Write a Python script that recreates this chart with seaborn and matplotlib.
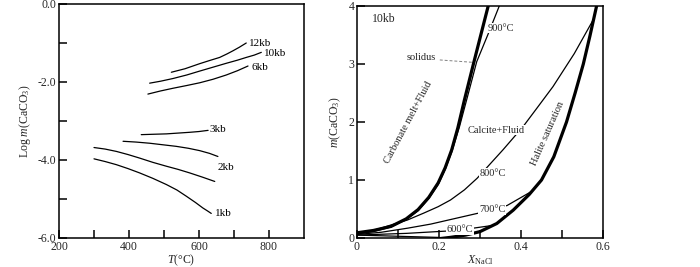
import numpy as np
import pandas as pd
import matplotlib
matplotlib.use("Agg")
import matplotlib.pyplot as plt
import seaborn as sns

sns.set_theme(style="white")
plt.rcParams['font.family'] = ['Liberation Serif', 'DejaVu Serif']
plt.rcParams['mathtext.fontset'] = 'custom'
plt.rcParams['mathtext.rm'] = 'Liberation Serif'
plt.rcParams['mathtext.it'] = 'Liberation Serif:italic'

# ---------------- Left panel data: Log m(CaCO3) vs T ----------------
t_12kb = [521, 560, 602, 630, 659, 680, 697, 715, 735]
v_12kb = [-1.75, -1.66, -1.53, -1.45, -1.37, -1.28, -1.20, -1.11, -1.00]
t_10kb = [459, 490, 526, 565, 602, 640, 678, 710, 735, 758, 778]
v_10kb = [-2.03, -1.98, -1.91, -1.82, -1.72, -1.62, -1.52, -1.44, -1.37, -1.31, -1.24]
t_6kb = [454, 490, 526, 565, 602, 640, 678, 710, 740]
v_6kb = [-2.31, -2.23, -2.16, -2.09, -2.02, -1.93, -1.82, -1.71, -1.59]
t_3kb = [435, 470, 507, 540, 573, 600, 626]
v_3kb = [-3.35, -3.34, -3.33, -3.31, -3.29, -3.27, -3.24]
t_2kb = [383, 420, 459, 497, 535, 570, 602, 630, 654]
v_2kb = [-3.52, -3.54, -3.57, -3.61, -3.65, -3.70, -3.76, -3.83, -3.91]
t_1p5kb = [300, 332, 364, 397, 430, 468, 507, 540, 573, 610, 645]
v_1p5kb = [-3.68, -3.72, -3.78, -3.86, -3.95, -4.06, -4.16, -4.24, -4.33, -4.44, -4.55]
t_1kb = [300, 332, 364, 397, 430, 468, 507, 537, 564, 590, 611, 625, 635]
v_1kb = [-3.97, -4.04, -4.12, -4.22, -4.33, -4.47, -4.63, -4.77, -4.93, -5.09, -5.23, -5.31, -5.37]

left_labels = ["12kb", "10kb", "6kb", "3kb", "2kb", "1kb"]
left_label_pos = [(742, -1.0), (787, -1.28), (750, -1.62), (630, -3.22), (654, -4.2), (647, -5.38)]

# ---------------- Right panel data: m(CaCO3) vs X_NaCl ----------------
x_solidus = [0.0, 0.04, 0.083, 0.12, 0.149, 0.175, 0.198, 0.215, 0.231, 0.246, 0.262, 0.285, 0.307, 0.320]
y_solidus = [0.09, 0.13, 0.20, 0.33, 0.49, 0.70, 0.95, 1.21, 1.52, 1.90, 2.38, 3.03, 3.64, 4.0]
x_halite = [0.178, 0.227, 0.265, 0.300, 0.341, 0.381, 0.420, 0.450, 0.480, 0.511, 0.532, 0.552, 0.568, 0.585]
y_halite = [-0.03, 0.01, 0.05, 0.11, 0.25, 0.48, 0.75, 1.0, 1.4, 2.0, 2.5, 3.0, 3.48, 4.02]
x_900 = [0.0, 0.04, 0.083, 0.12, 0.149, 0.175, 0.198, 0.215, 0.231, 0.250, 0.270, 0.292, 0.320, 0.347]
y_900 = [0.07, 0.11, 0.19, 0.32, 0.47, 0.68, 0.92, 1.18, 1.48, 1.92, 2.45, 3.04, 3.52, 4.0]
x_800 = [0.0, 0.04, 0.081, 0.123, 0.163, 0.198, 0.228, 0.262, 0.293, 0.356, 0.405, 0.440, 0.478, 0.530, 0.576]
y_800 = [0.07, 0.13, 0.22, 0.31, 0.43, 0.54, 0.655, 0.83, 1.03, 1.52, 1.92, 2.25, 2.61, 3.18, 3.76]
x_700 = [0.0, 0.06, 0.124, 0.180, 0.223, 0.297, 0.366, 0.425]
y_700 = [0.06, 0.10, 0.17, 0.24, 0.31, 0.43, 0.56, 0.80]
x_600 = [0.0, 0.06, 0.121, 0.170, 0.220, 0.284, 0.324]
y_600 = [0.05, 0.065, 0.08, 0.10, 0.12, 0.17, 0.21]
x_500 = [0.0, 0.10, 0.20]
y_500 = [0.05, 0.03, 0.01]

fig = plt.figure(figsize=(7.0, 2.67), dpi=100)
ax1 = fig.add_axes([59/700, 29/267, 245/700, 234/267])
ax2 = fig.add_axes([357/700, 29/267, 246/700, 232/267])

thin = 0.9
thick = 2.3

for t, v in [(t_12kb, v_12kb), (t_10kb, v_10kb), (t_6kb, v_6kb), (t_3kb, v_3kb),
             (t_2kb, v_2kb), (t_1p5kb, v_1p5kb), (t_1kb, v_1kb)]:
    sns.lineplot(x=t, y=v, ax=ax1, color="black", lw=thin, sort=False, estimator=None)

for lab, (lx, ly) in zip(left_labels, left_label_pos):
    ax1.text(lx, ly, lab, fontsize=8, va="center", ha="left", color="black")

ax1.set_xlim(200, 900)
ax1.set_ylim(-6, 0)
ax1.set_xticks(np.arange(200, 900, 100))
ax1.set_xticklabels(["200", "", "400", "", "600", "", "800"])
ax1.set_yticks(np.arange(-6, 0.5, 1))
ax1.set_yticklabels(["-6.0", "", "-4.0", "", "-2.0", "", "0.0"])
ax1.set_xlabel(r"$\mathit{T}$(°C)", fontsize=8.5, labelpad=0)
ax1.set_ylabel(r"Log $\mathit{m}$(CaCO$_3$)", fontsize=8.5, labelpad=3)

# right panel
sns.lineplot(x=x_solidus, y=y_solidus, ax=ax2, color="black", lw=thick, sort=False, estimator=None)
sns.lineplot(x=x_halite, y=y_halite, ax=ax2, color="black", lw=thick, sort=False, estimator=None)
for xs, ys in [(x_900, y_900), (x_800, y_800), (x_700, y_700), (x_600, y_600), (x_500, y_500)]:
    sns.lineplot(x=xs, y=ys, ax=ax2, color="black", lw=thin, sort=False, estimator=None)

ax2.plot([0.202, 0.28], [3.07, 3.03], color="gray", lw=0.7, ls=(0, (3, 2)))

bb = dict(facecolor="white", edgecolor="none", pad=0.5)
ax2.text(0.037, 3.78, "10kb", fontsize=8.5, va="center", ha="left")
ax2.text(0.352, 3.62, "900°C", fontsize=7.5, va="center", ha="center", bbox=bb)
ax2.text(0.156, 3.12, "solidus", fontsize=7.5, va="center", ha="center")
ax2.text(0.339, 1.86, "Calcite+Fluid", fontsize=7.5, va="center", ha="center", bbox=bb)
ax2.text(0.332, 1.11, "800°C", fontsize=7.5, va="center", ha="center", bbox=bb)
ax2.text(0.330, 0.49, "700°C", fontsize=7.5, va="center", ha="center", bbox=bb)
ax2.text(0.251, 0.14, "600°C", fontsize=7.5, va="center", ha="center", bbox=bb)
ax2.text(0.125, 2.0, "Carbonate melt+Fluid", fontsize=7.5, va="center", ha="center", rotation=62)
ax2.text(0.466, 1.81, "Halite saturation", fontsize=7.5, va="center", ha="center", rotation=66)

ax2.set_xlim(0, 0.6)
ax2.set_ylim(0, 4)
ax2.set_xticks(np.arange(0, 0.61, 0.1))
ax2.set_xticklabels(["0", "", "0.2", "", "0.4", "", "0.6"])
ax2.set_yticks([0, 1, 2, 3, 4])
ax2.set_yticklabels(["0", "1", "2", "3", "4"])
ax2.set_xlabel(r"$\mathit{X}_{\mathrm{NaCl}}$", fontsize=8.5, labelpad=0)
ax2.set_ylabel(r"$\mathit{m}$(CaCO$_3$)", fontsize=8.5, labelpad=4)

for ax in (ax1, ax2):
    ax.tick_params(direction="in", length=6, width=1.1, color="black",
                   labelsize=8.5, pad=2, bottom=True, left=True, top=False, right=False)
    for s in ax.spines.values():
        s.set_color("black")
        s.set_linewidth(1.1)
    ax.grid(False)

fig.savefig("out.png", dpi=100)
